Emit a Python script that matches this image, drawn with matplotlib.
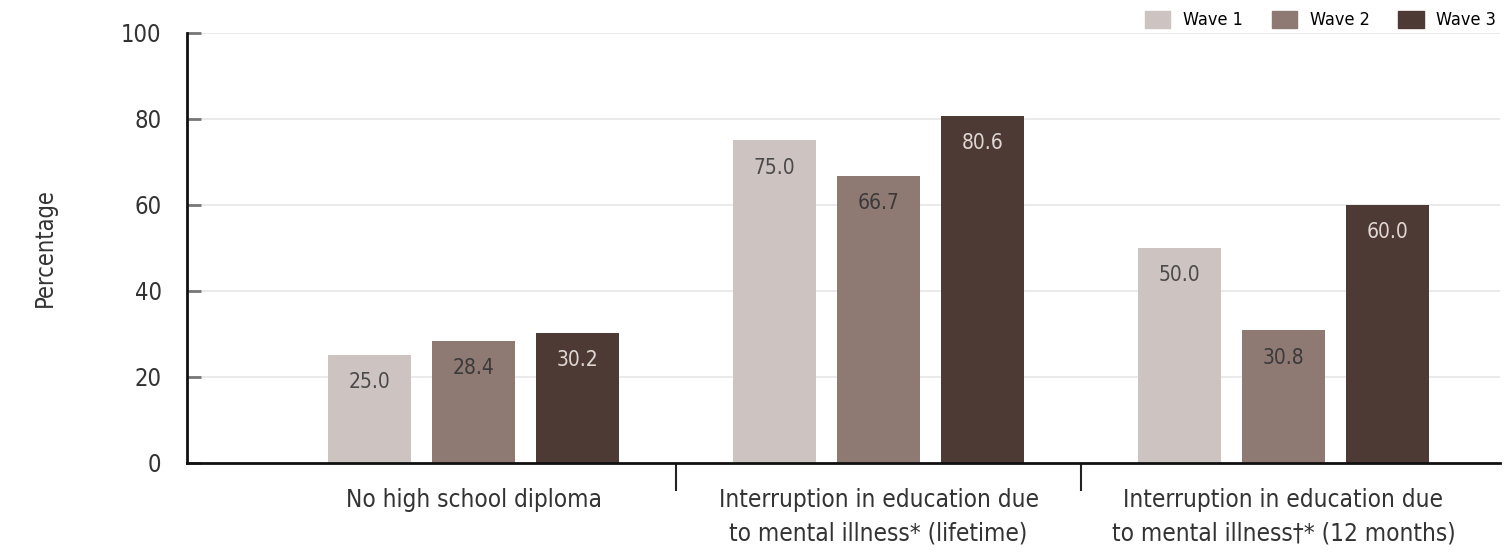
import numpy as np
import matplotlib
matplotlib.use("Agg")
import matplotlib.pyplot as plt
from matplotlib.patches import Patch

# data
categories = ["No high school diploma",
              "Interruption in education due\nto mental illness* (lifetime)",
              "Interruption in education due\nto mental illness\u2020* (12 months)"]
waves = ["Wave 1", "Wave 2", "Wave 3"]
wave1 = [25.0, 75.0, 50.0]
wave2 = [28.4, 66.7, 30.8]
wave3 = [30.2, 80.6, 60.0]
colors = ["#cdc3c0", "#8e7a73", "#4e3a35"]
label_colors = ["#4a4a4a", "#3a3a3a", "#e0d8d5"]

plt.rcParams['font.family'] = ['DejaVu Sans']
plt.rcParams['font.stretch'] = 'condensed'

fig = plt.figure(figsize=(15.05, 5.59), dpi=100)
ax = fig.add_axes([0.124, 0.172, 0.873, 0.769])

x = np.arange(len(categories))
w = 0.205
step = 0.257
for i, vals in enumerate([wave1, wave2, wave3]):
    pos = x + (i - 1) * step
    ax.bar(pos, vals, width=w, color=colors[i], zorder=2)
    for px, v in zip(pos, vals):
        ax.text(px, v - 6.3, f"{v:.1f}", ha="center", va="center",
                fontsize=15, color=label_colors[i], zorder=3)

ax.set_xlim(-0.709, 2.536)
ax.set_ylim(0, 100)
ax.set_yticks([0, 20, 40, 60, 80, 100])
ax.tick_params(axis="y", direction="in", length=10, width=2, color="#777777",
               labelsize=17, labelcolor="#333333", pad=18)
ax.yaxis.grid(True, color="#e6e6e6", lw=1.2, zorder=0)
ax.set_xticks(x)
ax.set_xticklabels(categories, fontsize=17.5, color="#333333", linespacing=1.5)
ax.tick_params(axis="x", length=0, pad=18)
ax.set_xticks([0.5, 1.5], minor=True)
ax.tick_params(axis="x", which="minor", length=20, width=1.5, color="#222222")

for s in ["top", "right"]:
    ax.spines[s].set_visible(False)
for s in ["left", "bottom"]:
    ax.spines[s].set_linewidth(2)
    ax.spines[s].set_color("#111111")

ax.set_ylabel("Percentage", fontsize=17, color="#333333", labelpad=46)

handles = [Patch(color=c, label=l) for c, l in zip(colors, waves)]
fig.legend(handles=handles, loc="center left", ncol=3, frameon=False,
           bbox_to_anchor=(1145 / 1505, 1 - 20 / 559), fontsize=13,
           handlelength=1.4, handleheight=1.1, columnspacing=1.6,
           handletextpad=0.7, borderaxespad=0, borderpad=0)

fig.savefig("out.png", dpi=100)
